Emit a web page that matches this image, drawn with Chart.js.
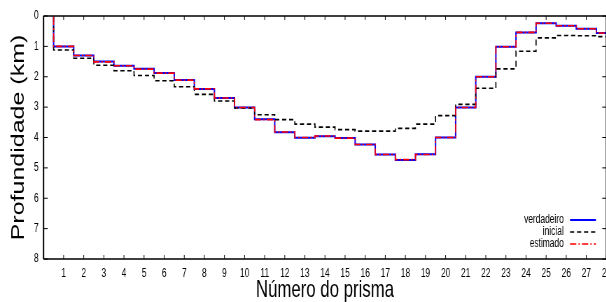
<!DOCTYPE html>
<html>
<head>
<meta charset="utf-8">
<title>Perfil do embasamento</title>
<script src="https://cdn.jsdelivr.net/npm/chart.js@4/dist/chart.umd.min.js"></script>
<style>
  html, body { margin: 0; padding: 0; background: #fff; overflow: hidden; }
  /* a figura original foi comprimida na horizontal */
  #wrap { width: 880px; height: 302px; transform: scaleX(0.7); transform-origin: 0 0; }
</style>
</head>
<body>
<div id="wrap"><canvas id="perfilChart"></canvas></div>
<script>
// ===============================
// DADOS
// ===============================

const prismas = [1, 2, 3, 4, 5, 6, 7, 8, 9, 10, 11, 12, 13, 14,
                 15, 16, 17, 18, 19, 20, 21, 22, 23, 24, 25, 26, 27, 28];

const verdadeiro = [1.00, 1.30, 1.50, 1.64, 1.74, 1.88, 2.11, 2.40, 2.70, 3.01,
                    3.40, 3.83, 4.01, 3.96, 4.02, 4.23, 4.56, 4.74, 4.55, 4.00,
                    3.01, 2.00, 1.01, 0.54, 0.24, 0.32, 0.42, 0.56];

const inicial = [1.12, 1.39, 1.62, 1.80, 1.96, 2.13, 2.33, 2.58, 2.80, 3.03,
                 3.25, 3.41, 3.56, 3.66, 3.74, 3.79, 3.79, 3.70, 3.56, 3.28,
                 2.91, 2.38, 1.74, 1.16, 0.72, 0.64, 0.65, 0.68];

const estimado = [1.00, 1.30, 1.51, 1.64, 1.75, 1.88, 2.11, 2.40, 2.70, 3.01,
                  3.41, 3.82, 4.00, 3.95, 4.02, 4.23, 4.56, 4.73, 4.56, 4.00,
                  3.01, 2.00, 1.01, 0.54, 0.24, 0.32, 0.42, 0.56];

const ticksY = [0, 1, 2, 3, 4, 5, 6, 7, 8];

const FONTE = '"Liberation Sans", Arial, Helvetica, sans-serif';

// degraus centrados em cada prisma (estilo histeps)
function degraus(valores) {
    const pts = [{ x: prismas[0] - 0.5, y: 0 }];
    valores.forEach((v, i) => pts.push({ x: prismas[i] - 0.5, y: v }));
    const n = prismas.length - 1;
    pts.push({ x: prismas[n] + 0.5, y: valores[n] });
    return pts;
}

// ===============================
// MOLDURA, TICKS E LEGENDA (estilo gnuplot)
// ===============================

const molduraGnuplot = {
    id: 'molduraGnuplot',
    afterDatasetsDraw(chart) {
        const { ctx, chartArea: a, scales: { x, y } } = chart;
        ctx.save();
        ctx.strokeStyle = '#000';

        // ticks para dentro, nos quatro lados
        ctx.lineWidth = 1;
        ctx.beginPath();
        prismas.forEach(p => {
            const px = x.getPixelForValue(p);
            ctx.moveTo(px, a.bottom); ctx.lineTo(px, a.bottom - 4);
            ctx.moveTo(px, a.top);    ctx.lineTo(px, a.top + 4);
        });
        ticksY.forEach(t => {
            const py = y.getPixelForValue(t);
            ctx.moveTo(a.left, py);  ctx.lineTo(a.left + 6, py);
            ctx.moveTo(a.right, py); ctx.lineTo(a.right - 6, py);
        });
        ctx.stroke();

        // borda
        ctx.lineWidth = 1.6;
        ctx.beginPath();
        ctx.moveTo(a.left, a.top); ctx.lineTo(a.right, a.top);
        ctx.moveTo(a.left, a.bottom); ctx.lineTo(a.right, a.bottom);
        ctx.stroke();
        ctx.lineWidth = 2;
        ctx.beginPath();
        ctx.moveTo(a.left, a.top); ctx.lineTo(a.left, a.bottom);
        ctx.moveTo(a.right, a.top); ctx.lineTo(a.right, a.bottom);
        ctx.stroke();

        // legenda: texto à esquerda, amostra da linha à direita
        ctx.font = '12px ' + FONTE;
        ctx.textAlign = 'right';
        ctx.textBaseline = 'middle';
        const fimAmostra = a.right - 15;
        chart.data.datasets.forEach((ds, i) => {
            const ly = 220 + i * 12;
            ctx.fillStyle = '#000';
            ctx.fillText(ds.label, fimAmostra - 46, ly);
            ctx.strokeStyle = ds.borderColor;
            ctx.lineWidth = ds.borderWidth;
            ctx.setLineDash(ds.borderDash || []);
            ctx.beginPath();
            ctx.moveTo(fimAmostra - 37, ly);
            ctx.lineTo(fimAmostra, ly);
            ctx.stroke();
            ctx.setLineDash([]);
        });
        ctx.restore();
    }
};

// ===============================
// GRÁFICO
// ===============================

new Chart(document.getElementById('perfilChart'), {
    type: 'line',
    data: {
        datasets: [
            {
                label: 'verdadeiro',
                data: degraus(verdadeiro),
                borderColor: '#0000ff',
                borderWidth: 2,
                order: 3
            },
            {
                label: 'inicial',
                data: degraus(inicial),
                borderColor: '#000000',
                borderWidth: 1.6,
                borderDash: [6, 4],
                order: 2
            },
            {
                label: 'estimado',
                data: degraus(estimado),
                borderColor: '#ff0000',
                borderWidth: 1.6,
                borderDash: [9, 3, 2, 3],
                order: 1
            }
        ]
    },
    options: {
        responsive: true,
        maintainAspectRatio: false,
        animation: false,
        layout: { padding: { top: 16, right: 11, left: 0, bottom: 0 } },
        elements: {
            line: { stepped: 'before', tension: 0, fill: false },
            point: { radius: 0, hoverRadius: 0 }
        },
        plugins: {
            legend: { display: false },
            tooltip: { enabled: false }
        },
        scales: {
            x: {
                type: 'linear',
                min: 0,
                max: 28,
                grid: { display: false, drawTicks: false },
                border: { display: false },
                ticks: {
                    stepSize: 1,
                    autoSkip: false,
                    maxRotation: 0,
                    padding: 7,
                    color: '#000',
                    font: { family: FONTE, size: 12 },
                    callback: v => v === 0 ? '' : v
                },
                title: {
                    display: true,
                    text: 'Número do prisma',
                    color: '#000',
                    font: { family: FONTE, size: 24, lineHeight: 1 },
                    padding: 0
                },
                afterFit: s => { s.height = 43; }
            },
            y: {
                reverse: true,
                min: 0,
                max: 8,
                grid: { display: false, drawTicks: false },
                border: { display: false },
                ticks: {
                    stepSize: 1,
                    padding: 7,
                    color: '#000',
                    font: { family: FONTE, size: 12 }
                },
                title: {
                    display: true,
                    text: 'Profundidade (km)',
                    color: '#000',
                    font: { family: FONTE, size: 25, lineHeight: 1 },
                    padding: { top: 14.5, bottom: 0 }
                },
                afterFit: s => { s.width = 62.2; }
            }
        }
    },
    plugins: [molduraGnuplot]
});
</script>
</body>
</html>
